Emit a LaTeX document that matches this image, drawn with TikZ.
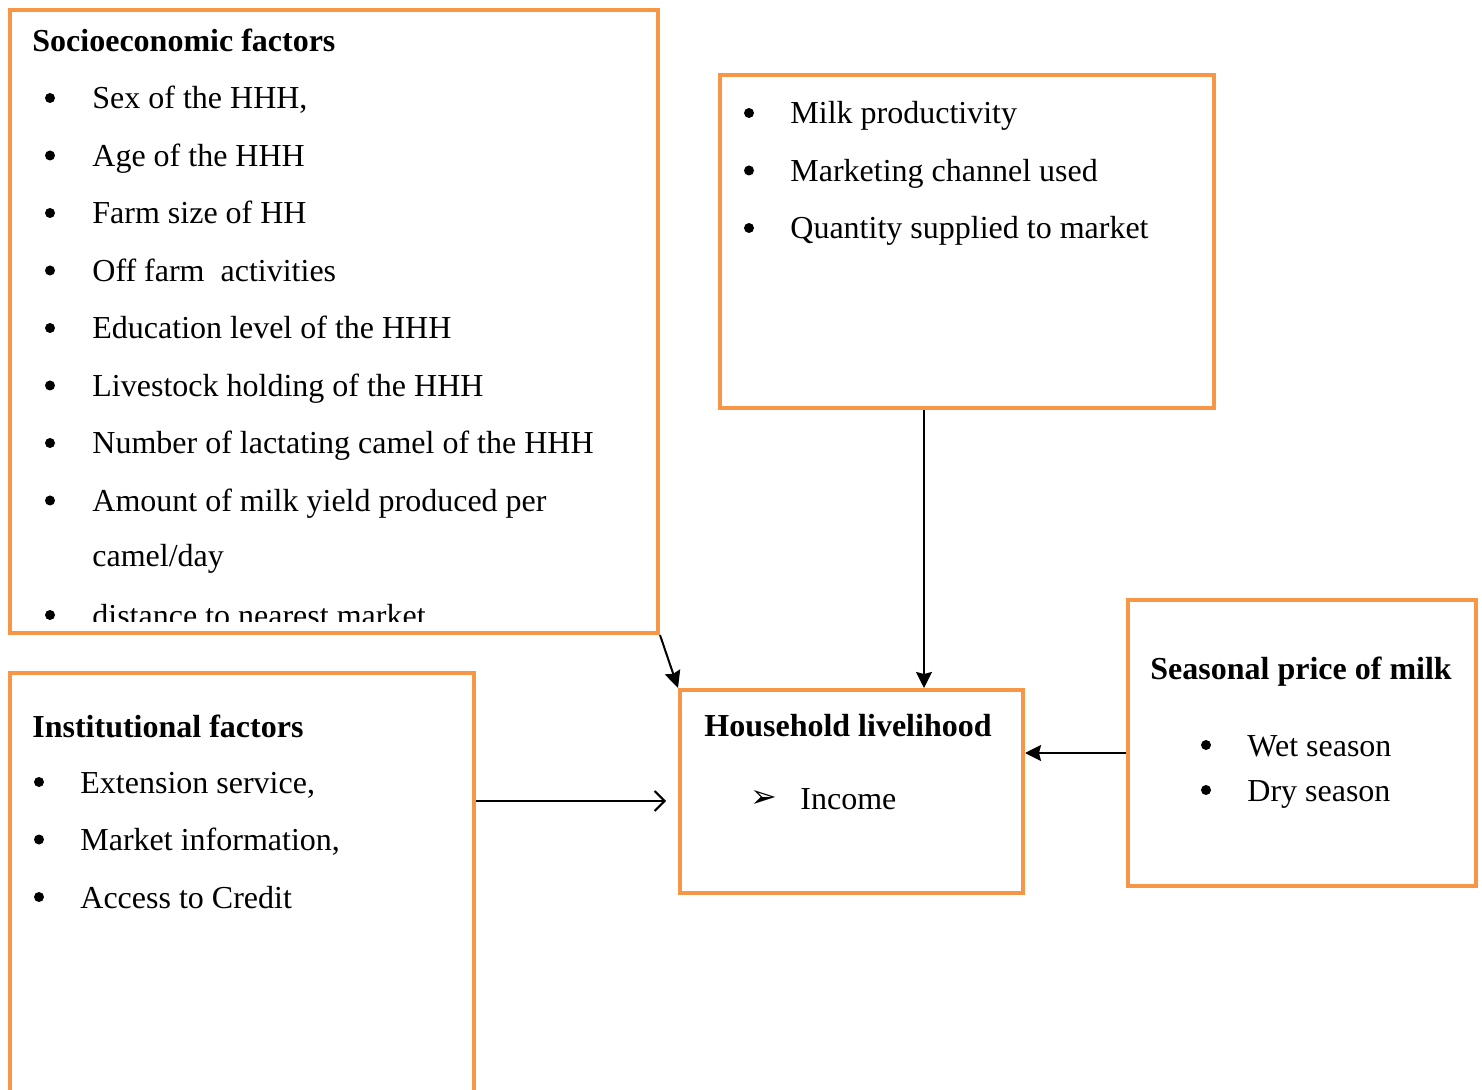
\documentclass[tikz,border=0pt]{standalone}
\usepackage{fontspec}
\setmainfont{Liberation Serif}
\newfontfamily\symfont{DejaVu Sans}
\usetikzlibrary{arrows.meta}
\definecolor{boxorange}{RGB}{247,150,70}

\begin{document}
\begin{tikzpicture}[x=0.5pt,y=-0.5pt,
  box/.style={draw=boxorange,line width=2pt,inner sep=0pt},
  txt/.style={anchor=base west,inner sep=0pt,font=\fontsize{16}{19}\selectfont},
  hd/.style={txt,font=\fontsize{16}{19}\selectfont\bfseries},
  dot/.style={circle,fill,inner sep=0pt,minimum size=5pt,yshift=5.5pt}]
  \useasboundingbox (0,0) rectangle (1482,1090);
  % boxes
  \node[box,minimum width=324pt,minimum height=311.5pt] (socio) at (334,321.5) {};
  \node[box,minimum width=247pt,minimum height=166.5pt] (milk) at (967,241.5) {};
  \node[box,minimum width=171.5pt,minimum height=101.5pt] (house) at (851.5,791.5) {};
  \node[box,minimum width=174pt,minimum height=143pt] (season) at (1302,743) {};
  \node[box,minimum width=232pt,minimum height=225pt] (inst) at (242,898) {};
  % socioeconomic factors
  \node[hd] (sociot) at (32,52) {Socioeconomic factors};
  \foreach \t [count=\i] in {{Sex of the HHH,},Age of the HHH,Farm size of HH,
      Off farm~ activities,Education level of the HHH,Livestock holding of the HHH,
      Number of lactating camel of the HHH,Amount of milk yield produced per}{
    \node[dot] (sb\i) at (50,{109+57.5*(\i-1)}) {};
    \node[txt] (s\i) at (92,{109+57.5*(\i-1)}) {\t};
  }
  \node[txt] (s8b) at (92,567) {camel/day};
  \begin{scope}
    \clip (10,10) rectangle (658,621);
    \node[dot] (sb9) at (50,626) {};
    \node[txt] (s9) at (92,626) {distance to nearest market};
  \end{scope}
  % milk
  \foreach \t [count=\i] in {Milk productivity,Marketing channel used,Quantity supplied to market}{
    \node[dot] (mb\i) at (749,{124+57.5*(\i-1)}) {};
    \node[txt] (m\i) at (790,{124+57.5*(\i-1)}) {\t};
  }
  % household livelihood
  \node[hd] (houset) at (704,736) {Household livelihood};
  \node[anchor=base,inner sep=0pt] (hb) at (764,807) {\symfont\fontsize{16}{18}\selectfont ➢};
  \node[txt] (h1) at (800,809) {Income};
  % seasonal price
  \node[hd] (seasont) at (1150,679) {Seasonal price of milk};
  \node[dot] (pb1) at (1206,756) {};
  \node[txt] (p1) at (1247,756) {Wet season};
  \node[dot] (pb2) at (1206,801) {};
  \node[txt] (p2) at (1247,801) {Dry season};
  % institutional factors
  \node[hd] (instt) at (32,737) {Institutional factors};
  \foreach \t [count=\i] in {{Extension service,},{Market information,},Access to Credit}{
    \node[dot] (ib\i) at (39,{793+57.5*(\i-1)}) {};
    \node[txt] (i\i) at (80,{793+57.5*(\i-1)}) {\t};
  }
  % arrows
  \coordinate (mx) at (924,0);
  \coordinate (sy) at (0,753);
  \coordinate (iy) at (0,801);
  \draw[-{Stealth[length=8.5pt,width=8pt,inset=1pt]},line width=1pt]
    (socio.south east) -- (house.north west);
  \draw[-{Stealth[length=8pt,width=8pt,inset=1pt]},line width=1pt]
    (milk.south -| mx) -- (house.north -| mx);
  \draw[-{Stealth[length=8pt,width=8pt,inset=1pt]},line width=1pt]
    (season.west |- sy) -- (house.east |- sy);
  \draw[-{Straight Barb[length=5pt,width=10pt]},line width=1pt,shorten >=6pt]
    (inst.east |- iy) -- (house.west |- iy);
\end{tikzpicture}
\end{document}
